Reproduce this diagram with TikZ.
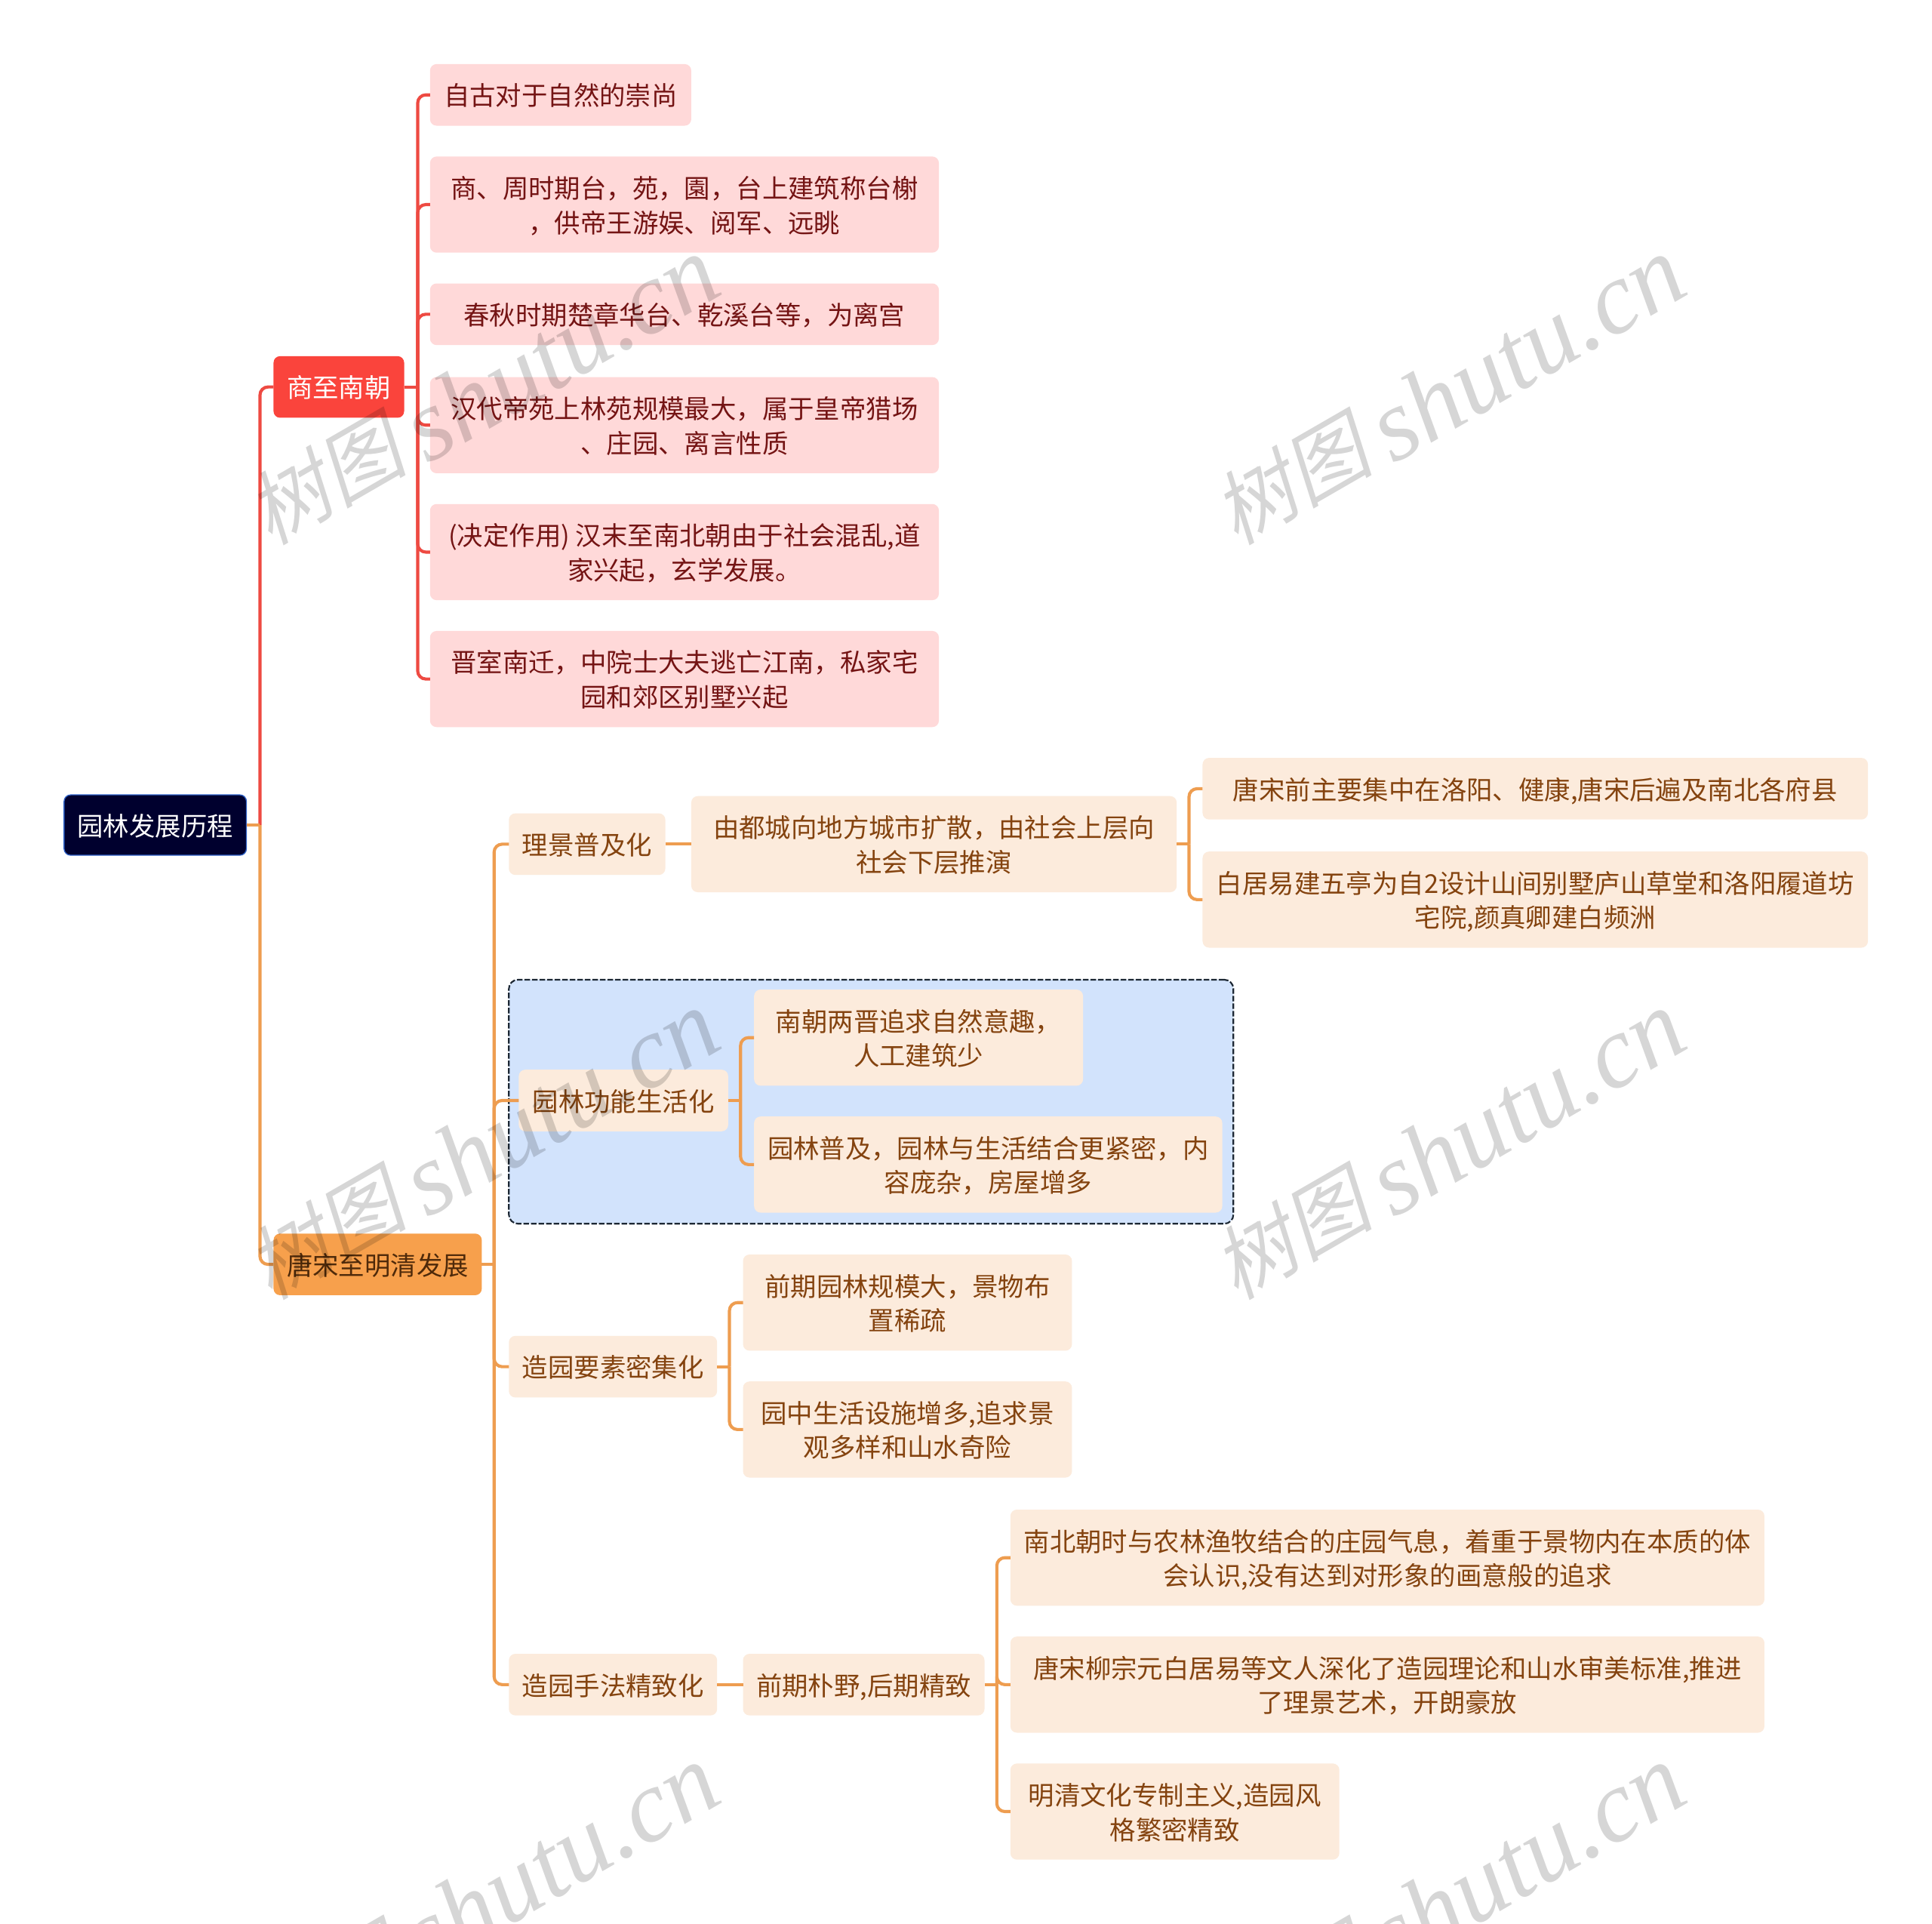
\documentclass[tikz,border=0pt]{standalone}
\usepackage{fontspec}
\setmainfont{Noto Sans CJK SC}
\newfontfamily\wmcjk[FakeSlant=0.22]{Noto Sans CJK SC}
\newfontfamily\wmlat{Liberation Serif}[ItalicFont=Liberation Serif Italic]
\definecolor{rootfill}{HTML}{00002E}
\definecolor{rootedge}{HTML}{2F62C8}
\definecolor{redmain}{HTML}{FA443C}
\definecolor{orgmain}{HTML}{F7A04C}
\definecolor{redleaf}{HTML}{FFD9D9}
\definecolor{orgleaf}{HTML}{FCEBDC}
\definecolor{redtxt}{HTML}{741414}
\definecolor{orgtxt}{HTML}{84430F}
\definecolor{orgdark}{HTML}{4F2A0A}
\definecolor{redline}{HTML}{EE4A42}
\definecolor{orgline}{HTML}{EE9D50}
\definecolor{bluefill}{HTML}{D2E3FC}
\definecolor{dashline}{HTML}{1C2733}
\tikzset{
 basebox/.style={rectangle,rounded corners=6.5pt,inner sep=0pt,outer sep=0pt,
   font=\fontsize{25.8}{34.3}\selectfont},
 rootbox/.style={basebox,fill=rootfill,draw=rootedge,line width=1pt,text=white},
 mainred/.style={basebox,fill=redmain,text=white},
 mainorg/.style={basebox,fill=orgmain,text=orgdark},
 leafred/.style={basebox,fill=redleaf,text=redtxt},
 leaforg/.style={basebox,fill=orgleaf,text=orgtxt},
 groupbox/.style={rectangle,rounded corners=9pt,fill=bluefill,draw=dashline,line width=1.6pt,
   dash pattern=on 5.5pt off 2pt,inner sep=0pt,outer sep=0pt},
 linkline/.style={line width=3.1pt,line cap=butt,rounded corners=8pt},
 markbox/.style={rotate=30,inner sep=0pt,text=black,text opacity=0.16}
}
\newcommand\bx[7]{\node[#1,minimum width={(#5-#3)*1.2245pt},minimum height={(#6-#4)*1.2245pt}] (#2) at ({(#3+#5)/2},{(#4+#6)/2}) {\raisebox{-3.8pt}[\height][\depth]{\begin{tabular}{@{}c@{}}#7\end{tabular}}};}
\newcommand\stub[3]{\draw[linkline,#3] (#1.east) -- (#1.east -| #2);}
\newcommand\kid[4]{\draw[linkline,#4] (#1.east -| #3) |- (#2.west);}
\begin{document}
\begin{tikzpicture}[x=1.2245pt,y=-1.2245pt]
\useasboundingbox (0,0) rectangle (1568,1561);
\fill[white] (0,0) rectangle (1568,1561);
% junction columns
\coordinate (jroot) at (211,0);
\coordinate (jred) at (339,0);
\coordinate (jorg) at (401,0);
\coordinate (jdu) at (965,0);
\coordinate (jfun) at (601,0);
\coordinate (jyao) at (592,0);
\coordinate (jpu) at (809,0);
% group frame
\node[groupbox,minimum width={588*1.2245pt},minimum height={198*1.2245pt}] (frame) at (707,894) {};
% nodes
\bx{rootbox}{root}{52}{645}{200}{694}{园林发展历程}
\bx{mainred}{shang}{222}{289}{328}{339}{商至南朝}
\bx{mainorg}{tang}{222}{1001}{391}{1051}{唐宋至明清发展}
\bx{leafred}{ra}{349}{52}{561}{102}{自古对于自然的崇尚}
\bx{leafred}{rb}{349}{127}{762}{205}{商、周时期台，苑，園，台上建筑称台榭\\，供帝王游娱、阅军、远眺}
\bx{leafred}{rc}{349}{230}{762}{280}{春秋时期楚章华台、乾溪台等，为离宫}
\bx{leafred}{rd}{349}{306}{762}{384}{汉代帝苑上林苑规模最大，属于皇帝猎场\\、庄园、离言性质}
\bx{leafred}{re}{349}{409}{762}{487}{(决定作用) 汉末至南北朝由于社会混乱,道\\家兴起，玄学发展。}
\bx{leafred}{rf}{349}{512}{762}{590}{晋室南迁，中院士大夫逃亡江南，私家宅\\园和郊区别墅兴起}
\bx{leaforg}{li}{413}{660}{540}{710}{理景普及化}
\bx{leaforg}{du}{561}{646}{955}{724}{由都城向地方城市扩散，由社会上层向\\社会下层推演}
\bx{leaforg}{dua}{976}{615}{1516}{665}{唐宋前主要集中在洛阳、健康,唐宋后遍及南北各府县}
\bx{leaforg}{dub}{976}{691}{1516}{769}{白居易建五亭为自2设计山间别墅庐山草堂和洛阳履道坊\\宅院,颜真卿建白频洲}
\bx{leaforg}{fun}{421}{868}{591}{918}{园林功能生活化}
\bx{leaforg}{funa}{612}{803}{879}{881}{南朝两晋追求自然意趣，\\人工建筑少}
\bx{leaforg}{funb}{612}{906}{992}{984}{园林普及，园林与生活结合更紧密，内\\容庞杂，房屋增多}
\bx{leaforg}{yao}{413}{1084}{582}{1134}{造园要素密集化}
\bx{leaforg}{yaoa}{603}{1018}{870}{1096}{前期园林规模大，景物布\\置稀疏}
\bx{leaforg}{yaob}{603}{1121}{870}{1199}{园中生活设施增多,追求景\\观多样和山水奇险}
\bx{leaforg}{shou}{413}{1342}{582}{1392}{造园手法精致化}
\bx{leaforg}{pu}{603}{1342}{799}{1392}{前期朴野,后期精致}
\bx{leaforg}{pua}{820}{1225}{1432}{1303}{南北朝时与农林渔牧结合的庄园气息，着重于景物内在本质的体\\会认识,没有达到对形象的画意般的追求}
\bx{leaforg}{pub}{820}{1328}{1432}{1406}{唐宋柳宗元白居易等文人深化了造园理论和山水审美标准,推进\\了理景艺术，开朗豪放}
\bx{leaforg}{puc}{820}{1431}{1087}{1509}{明清文化专制主义,造园风\\格繁密精致}
% connectors
\kid{root}{shang}{jroot}{redline}
\stub{shang}{jred}{redline}
\kid{shang}{ra}{jred}{redline}
\kid{shang}{rb}{jred}{redline}
\kid{shang}{rc}{jred}{redline}
\kid{shang}{rd}{jred}{redline}
\kid{shang}{re}{jred}{redline}
\kid{shang}{rf}{jred}{redline}
\stub{root}{jroot}{orgline}
\kid{root}{tang}{jroot}{orgline}
\stub{tang}{jorg}{orgline}
\kid{tang}{li}{jorg}{orgline}
\kid{tang}{fun}{jorg}{orgline}
\kid{tang}{yao}{jorg}{orgline}
\kid{tang}{shou}{jorg}{orgline}
\draw[linkline,orgline] (li.east) -- (du.west);
\stub{du}{jdu}{orgline}
\kid{du}{dua}{jdu}{orgline}
\kid{du}{dub}{jdu}{orgline}
\stub{fun}{jfun}{orgline}
\kid{fun}{funa}{jfun}{orgline}
\kid{fun}{funb}{jfun}{orgline}
\stub{yao}{jyao}{orgline}
\kid{yao}{yaoa}{jyao}{orgline}
\kid{yao}{yaob}{jyao}{orgline}
\draw[linkline,orgline] (shou.east) -- (pu.west);
\stub{pu}{jpu}{orgline}
\kid{pu}{pua}{jpu}{orgline}
\kid{pu}{pub}{jpu}{orgline}
\kid{pu}{puc}{jpu}{orgline}
% watermark
\begin{scope}
\clip (0,0) rectangle (1568,1561);
\foreach \mx/\my/\mn in {391/317/ma,1175/317/mb,391/929/mc,1175/929/md,391/1541/me,1175/1541/mf}{
 \node[markbox] (\mn) at (\mx,\my) {\fontsize{80}{80}\wmcjk\raisebox{8pt}{树图}\hspace{16pt}\fontsize{102}{102}\wmlat\itshape shutu.cn};
}
\end{scope}
\end{tikzpicture}
\end{document}
